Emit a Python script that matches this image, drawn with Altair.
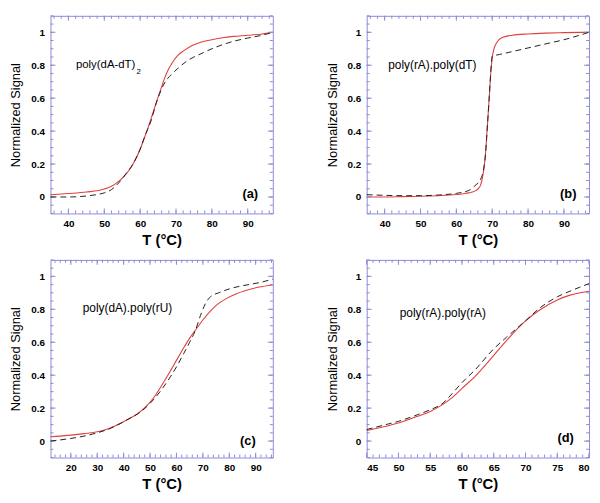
import altair as alt
import pandas as pd

# ---------------- data ----------------
# panel (a) poly(dA-dT)2
a_red_T = [35, 40, 45, 50, 52, 54, 55.5, 57, 58.5, 60, 61.2, 62.2, 63.1, 64, 64.9, 66, 66.8, 68, 69.1, 70.5, 72.3, 74.5, 76.9, 80, 83, 86, 90, 94, 97]
a_red_S = [0.014, 0.021, 0.03, 0.048, 0.065, 0.095, 0.125, 0.165, 0.22, 0.29, 0.36, 0.42, 0.48, 0.54, 0.60, 0.67, 0.72, 0.78, 0.82, 0.86, 0.89, 0.92, 0.94, 0.955, 0.967, 0.975, 0.982, 0.99, 1.0]
a_dash_T = [35, 40, 45, 48, 50, 52, 54, 56, 58, 60, 61.5, 63, 64.5, 65.5, 66.5, 67.5, 69, 71, 73, 75, 77, 80, 83, 86, 90, 94, 97]
a_dash_S = [0.0, 0.0, 0.006, 0.015, 0.025, 0.045, 0.085, 0.14, 0.2, 0.29, 0.38, 0.46, 0.57, 0.63, 0.68, 0.715, 0.75, 0.79, 0.825, 0.85, 0.87, 0.9, 0.925, 0.945, 0.965, 0.982, 1.0]

# panel (b) poly(rA).poly(dT)
b_red_T = [35, 40, 45, 50, 55, 60, 62, 63.5, 64.5, 65.5, 66.3, 66.8, 67.3, 67.75, 68.2, 68.5, 69.1, 69.7, 70.1, 70.5, 71.2, 71.9, 73, 75.6, 80, 85, 90, 97]
b_red_S = [0.0, 0.0, 0.002, 0.004, 0.008, 0.015, 0.02, 0.025, 0.03, 0.04, 0.055, 0.075, 0.12, 0.18, 0.28, 0.38, 0.58, 0.78, 0.86, 0.9, 0.935, 0.956, 0.97, 0.982, 0.99, 0.995, 0.998, 1.0]
b_dash_T = [35, 40, 45, 50, 55, 60, 62, 63.5, 64.5, 65.5, 66.3, 66.8, 67.3, 67.75, 68.2, 68.5, 69.1, 69.6, 70, 72, 75, 80, 85, 90, 97]
b_dash_S = [0.014, 0.01, 0.008, 0.008, 0.012, 0.022, 0.03, 0.04, 0.055, 0.075, 0.09, 0.11, 0.14, 0.19, 0.28, 0.38, 0.58, 0.76, 0.855, 0.865, 0.88, 0.905, 0.93, 0.955, 1.0]

# panel (c) poly(dA).poly(rU)
c_red_T = [12.3, 16, 20, 25, 30, 35, 39, 42, 45.3, 48.5, 51.5, 54.5, 57.7, 60, 62.7, 65, 67.7, 70, 72.6, 75.5, 78.9, 82.5, 86.3, 91.3, 96.5]
c_red_S = [0.026, 0.03, 0.036, 0.045, 0.056, 0.08, 0.11, 0.135, 0.166, 0.21, 0.266, 0.34, 0.425, 0.49, 0.565, 0.625, 0.685, 0.735, 0.784, 0.83, 0.865, 0.893, 0.914, 0.935, 0.948]
c_dash_T = [12.3, 15, 20, 25, 30, 35, 39, 42, 45.3, 48.5, 51.5, 54.5, 57.7, 60, 62.7, 65, 67, 69.5, 71, 72.6, 74, 76, 80, 84, 88.8, 92, 96.5]
c_dash_S = [0.0, 0.005, 0.016, 0.03, 0.05, 0.077, 0.108, 0.135, 0.165, 0.205, 0.255, 0.315, 0.39, 0.45, 0.53, 0.6, 0.665, 0.78, 0.835, 0.872, 0.888, 0.9, 0.924, 0.94, 0.954, 0.964, 0.984]

# panel (d) poly(rA).poly(rA)
d_red_T = [45, 47.5, 50, 53, 55, 57, 58.5, 60, 62, 65, 67, 70, 72, 75, 77, 80]
d_red_S = [0.064, 0.085, 0.11, 0.15, 0.18, 0.223, 0.265, 0.32, 0.39, 0.52, 0.61, 0.73, 0.79, 0.857, 0.886, 0.91]
d_dash_T = [45, 47.5, 50, 53, 55, 57, 58.5, 60, 62, 65, 67, 70, 72, 75, 77, 80]
d_dash_S = [0.07, 0.095, 0.12, 0.16, 0.19, 0.23, 0.29, 0.355, 0.43, 0.56, 0.63, 0.73, 0.8, 0.876, 0.91, 0.956]

names = ["poly(dA-dT)", "poly(rA).poly(dT)", "poly(dA).poly(rU)", "poly(rA).poly(rA)"]
tags = ["(a)", "(b)", "(c)", "(d)"]
x_domains = [[35, 97], [35, 97], [12.3, 96.5], [45, 80]]
x_major = [[40, 50, 60, 70, 80, 90], [40, 50, 60, 70, 80, 90],
           [20, 30, 40, 50, 60, 70, 80, 90], [45, 50, 55, 60, 65, 70, 75, 80]]
x_minor_step = [2, 2, 2, 1]
y_major = [0, 0.2, 0.4, 0.6, 0.8, 1.0]
name_pos = [(42.1, 0.80), (41.0, 0.80), (24.5, 0.81), (50.2, 0.78)]
tag_pos = [(92.9, 0.02), (93.5, 0.02), (90.0, 0.0), (77.6, 0.02)]

# ---------------- style ----------------
W, H = 225, 200
FONT = "Liberation Sans"
FRAME = "#8a8ad8"
RED = "#e04040"
MAJ, MIN = 5, 3


def tick_values(lo, hi, step):
    vals = []
    k = int(-(-lo // step))
    while k * step <= hi + 1e-9:
        vals.append(round(k * step, 3))
        k += 1
    return vals


y_minor = tick_values(-0.1, 1.1, 0.05)


def panel(i, red_T, red_S, dash_T, dash_S, sub=False):
    red = pd.DataFrame({"T": red_T, "S": red_S})
    dash = pd.DataFrame({"T": dash_T, "S": dash_S})
    lo, hi = x_domains[i]
    xs = alt.Scale(domain=x_domains[i], nice=False, zero=False)
    ys = alt.Scale(domain=[-0.1, 1.1], nice=False, zero=False)
    xmin = tick_values(lo, hi, x_minor_step[i])

    main = alt.Chart(red).mark_line(color=RED, strokeWidth=1.1, interpolate="monotone").encode(
        x=alt.X("T:Q", scale=xs, axis=alt.Axis(
            orient="bottom", values=x_major[i], ticks=False, domain=False, grid=False,
            format="d", title="T (°C)", titleFontWeight="bold", titleFontSize=15,
            labelPadding=5, titlePadding=4)),
        y=alt.Y("S:Q", scale=ys, axis=alt.Axis(
            orient="left", values=y_major, ticks=False, domain=False, grid=False,
            format="~g", title="Normalized Signal", titleFontWeight="normal",
            titleFontSize=13, labelPadding=6, titlePadding=8)),
    )
    dashed = alt.Chart(dash).mark_line(color="#222222", strokeDash=[6, 4], strokeWidth=1,
                                       interpolate="monotone").encode(
        x=alt.X("T:Q", scale=xs, axis=None), y=alt.Y("S:Q", scale=ys, axis=None))

    # inward tick marks on all four sides, placed through the scales
    tick_layers = []
    for xv, yv, L in ((x_major[i], y_major, MAJ), (xmin, y_minor, MIN)):
        xd = pd.DataFrame({"T": xv})
        yd = pd.DataFrame({"S": yv})
        tick_layers.append(alt.Chart(xd).mark_rule(color=FRAME, strokeWidth=1).encode(
            x=alt.X("T:Q", scale=xs, axis=None), y=alt.value(H), y2=alt.value(H - L)))
        tick_layers.append(alt.Chart(xd).mark_rule(color=FRAME, strokeWidth=1).encode(
            x=alt.X("T:Q", scale=xs, axis=None), y=alt.value(0), y2=alt.value(L)))
        tick_layers.append(alt.Chart(yd).mark_rule(color=FRAME, strokeWidth=1).encode(
            y=alt.Y("S:Q", scale=ys, axis=None), x=alt.value(0), x2=alt.value(L)))
        tick_layers.append(alt.Chart(yd).mark_rule(color=FRAME, strokeWidth=1).encode(
            y=alt.Y("S:Q", scale=ys, axis=None), x=alt.value(W), x2=alt.value(W - L)))

    nx, ny = name_pos[i]
    tx, ty = tag_pos[i]
    name_df = pd.DataFrame({"T": [nx], "S": [ny], "t": [names[i]]})
    tag_df = pd.DataFrame({"T": [tx], "S": [ty], "t": [tags[i]]})
    name_txt = alt.Chart(name_df).mark_text(align="left", baseline="middle", font=FONT,
                                            fontSize=11.5 if sub else 12, color="black").encode(
        x=alt.X("T:Q", scale=xs, axis=None), y=alt.Y("S:Q", scale=ys, axis=None), text="t:N")
    tag_txt = alt.Chart(tag_df).mark_text(align="right", baseline="middle", font=FONT,
                                          fontSize=13, fontWeight="bold", color="black").encode(
        x=alt.X("T:Q", scale=xs, axis=None), y=alt.Y("S:Q", scale=ys, axis=None), text="t:N")
    layers = [main] + tick_layers + [dashed, name_txt, tag_txt]
    if sub:
        sub_df = pd.DataFrame({"T": [59.0], "S": [0.76], "t": ["2"]})
        layers.append(alt.Chart(sub_df).mark_text(align="left", baseline="middle", font=FONT,
                                                  fontSize=8, color="black").encode(
            x=alt.X("T:Q", scale=xs, axis=None), y=alt.Y("S:Q", scale=ys, axis=None), text="t:N"))
    return alt.layer(*layers).resolve_axis(x="independent", y="independent").properties(
        width=W, height=H)


pa = panel(0, a_red_T, a_red_S, a_dash_T, a_dash_S, sub=True)
pb = panel(1, b_red_T, b_red_S, b_dash_T, b_dash_S)
pc = panel(2, c_red_T, c_red_S, c_dash_T, c_dash_S)
pd_ = panel(3, d_red_T, d_red_S, d_dash_T, d_dash_S)

chart = alt.vconcat(
    alt.hconcat(pa, pb, spacing=50),
    alt.hconcat(pc, pd_, spacing=50),
    spacing=11,
).properties(
    padding={"left": 1, "top": 4, "right": 0, "bottom": 0}
).configure_view(
    stroke=FRAME, strokeWidth=1
).configure_axis(
    labelFont=FONT, titleFont=FONT, labelFontWeight="bold", labelFontSize=10,
    labelColor="black", titleColor="black"
)

chart.save("out.html", embed_options={"renderer": "svg", "actions": False})
